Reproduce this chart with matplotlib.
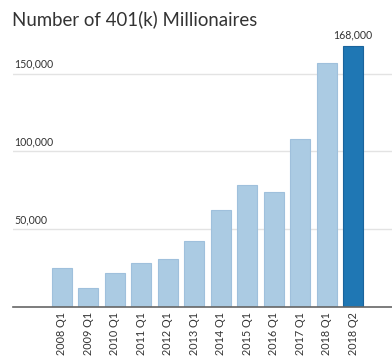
import matplotlib
matplotlib.use("Agg")
import matplotlib.pyplot as plt

categories = ["2008 Q1", "2009 Q1", "2010 Q1", "2011 Q1", "2012 Q1", "2013 Q1",
              "2014 Q1", "2015 Q1", "2016 Q1", "2017 Q1", "2018 Q1", "2018 Q2"]
values = [25000, 12000, 22000, 28000, 31000, 42000,
          62000, 78000, 74000, 108000, 157000, 168000]
ytick_values = [50000, 100000, 150000]
ytick_labels = ["50,000", "100,000", "150,000"]
title = "Number of 401(k) Millionaires"

plt.rcParams['font.family'] = ['Lato', 'DejaVu Sans']
W, H = 392, 362
fig = plt.figure(figsize=(W / 100, H / 100), dpi=100)
base_y = 306.7
top_y = 34.7
ax = fig.add_axes([13 / W, (H - base_y) / H, 1 - 13 / W, (base_y - top_y) / H])

light, dark = "#abcbe3", "#1f77b4"
colors = [light] * (len(values) - 1) + [dark]
edges = ["#9fc0dc"] * (len(values) - 1) + ["#1a649c"]
x = list(range(len(values)))
ax.bar(x, values, width=0.76, color=colors, edgecolor=edges, linewidth=0.8, zorder=2)

ax.set_xlim(-1.85, 12.47)
ax.set_ylim(0, 175000)
for v, lab in zip(ytick_values, ytick_labels):
    ax.axhline(v, color="#e3e3e3", linewidth=1.0, zorder=1)
    ax.text(0.003, v + 2500, lab, transform=ax.get_yaxis_transform(),
            ha="left", va="bottom", fontsize=7.6, color="#333333")

ax.text(x[-1], values[-1] + 3000, f"{values[-1]:,}", ha="center", va="bottom",
        fontsize=7.6, color="#333333")

ax.set_xticks(x)
ax.set_xticklabels(categories, rotation=90, fontsize=7.8, color="#333333")
ax.tick_params(axis="x", length=0, pad=4)
ax.set_yticks([])
for s in ["top", "right", "left"]:
    ax.spines[s].set_visible(False)
ax.spines["bottom"].set_color("#666666")
ax.spines["bottom"].set_linewidth(1.2)
ax.spines["bottom"].set_zorder(3)

fig.text(12 / W, 1 - 19 / H, title, ha="left", va="center", fontsize=13.4, color="#333333")

fig.savefig("out.png", dpi=100)
